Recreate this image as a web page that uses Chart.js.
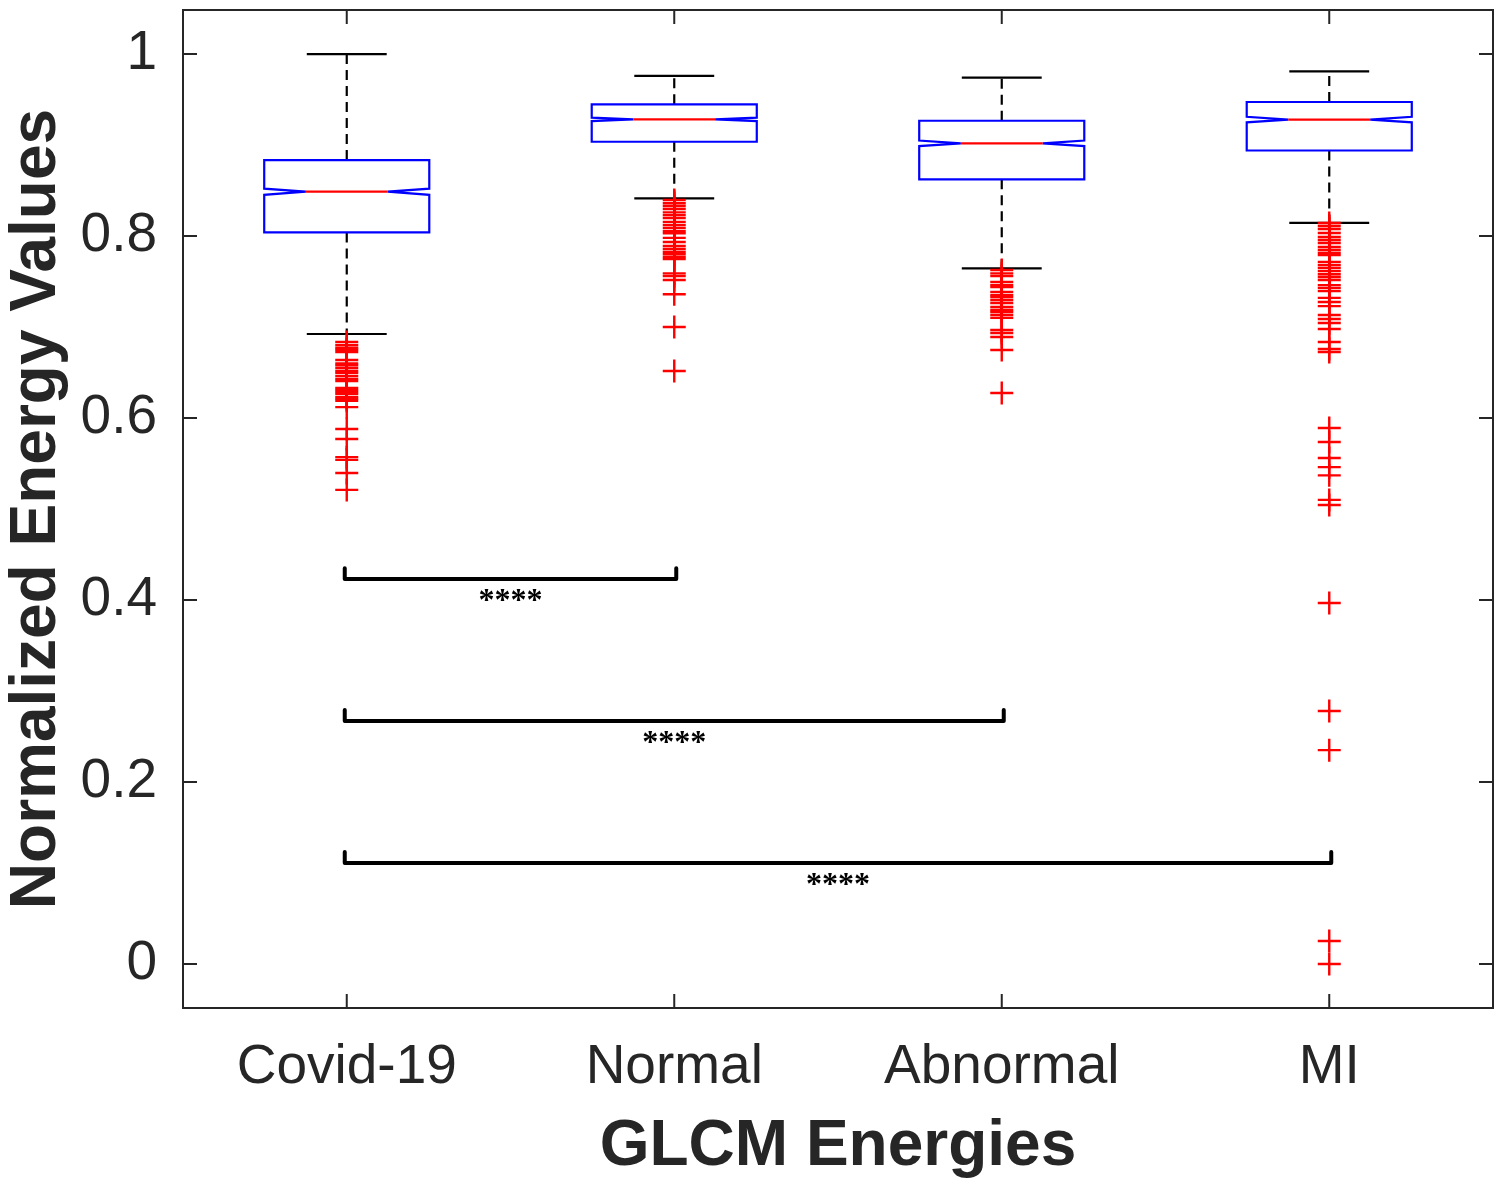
<!DOCTYPE html>
<html>
<head>
<meta charset="utf-8">
<script src="https://cdn.jsdelivr.net/npm/chart.js@4.4.0/dist/chart.umd.min.js"></script>
<style>
  html, body { margin: 0; padding: 0; background: #fff; }
</style>
</head>
<body>
<canvas id="chart" width="1504" height="1179"></canvas>
<script>
// box statistics
var categories = ["Covid-19", "Normal", "Abnormal", "MI"];
var upperWhisker = [1.000, 0.976, 0.974, 0.981];
var q3 = [0.8835, 0.9447, 0.9267, 0.9473];
var medians = [0.8487, 0.9282, 0.9019, 0.928];
var q1 = [0.804, 0.9036, 0.8623, 0.894];
var lowerWhisker = [0.6923, 0.8414, 0.7645, 0.8145];
var notchHalf = [0.0034, 0.0019, 0.003, 0.003];

// outliers
var covidOutliers = [0.6835, 0.680, 0.677, 0.675, 0.6725, 0.6637, 0.660, 0.658, 0.655, 0.6516,
  0.6495, 0.646, 0.643, 0.6407, 0.633, 0.6308, 0.6286, 0.6264, 0.623, 0.621, 0.619, 0.612,
  0.588, 0.577, 0.557, 0.554, 0.5396, 0.521];
var normalOutliers = [0.8396, 0.836, 0.833, 0.8297, 0.826, 0.823, 0.8198, 0.8154, 0.812, 0.809,
  0.8055, 0.803, 0.798, 0.7934, 0.789, 0.7857, 0.7824, 0.780, 0.777, 0.7747, 0.759, 0.756,
  0.7516, 0.736, 0.700, 0.6516];
var abnormalOutliers = [0.7626, 0.759, 0.756, 0.7495, 0.746, 0.744, 0.7385, 0.735, 0.733, 0.7297,
  0.7264, 0.722, 0.7187, 0.7165, 0.7132, 0.710, 0.6967, 0.6934, 0.689, 0.6747, 0.6275];
var miOutliers = [0.8143, 0.811, 0.8077, 0.8033, 0.7989, 0.7956, 0.7923, 0.7879, 0.7846, 0.7813,
  0.779, 0.7714, 0.768, 0.765, 0.7615, 0.758, 0.755, 0.7516, 0.746, 0.743, 0.7396, 0.732,
  0.7275, 0.723, 0.7132, 0.7088, 0.7044, 0.6978, 0.6835, 0.6758, 0.6725, 0.589, 0.5736,
  0.556, 0.546, 0.537, 0.51, 0.5044, 0.3967, 0.278, 0.235, 0.0253, 0.0];
var outliers = [covidOutliers, normalOutliers, abnormalOutliers, miOutliers];

// significance brackets (group indexes are 1-based)
var sigFrom = [1, 1, 1];
var sigTo = [2, 3, 4];
var sigLevel = [0.423, 0.267, 0.111];
var sigText = ["****", "****", "****"];

var yTicks = [0, 0.2, 0.4, 0.6, 0.8, 1];
var yTickLabels = ["0", "0.2", "0.4", "0.6", "0.8", "1"];

var BOX_HALF = 0.252, NOTCH_HALF = 0.125, CAP_HALF = 0.122;
var AXIS_COLOR = "#262626";

var boxPlugin = {
  id: "notchedBoxes",
  beforeDatasetsDraw: function (chart) {
    var ctx = chart.ctx, xs = chart.scales.x, ys = chart.scales.y;
    ctx.save();
    categories.forEach(function (cat, i) {
      var c = i + 1;
      var cx = xs.getPixelForValue(c);
      var bl = xs.getPixelForValue(c - BOX_HALF), br = xs.getPixelForValue(c + BOX_HALF);
      var nl = xs.getPixelForValue(c - NOTCH_HALF), nr = xs.getPixelForValue(c + NOTCH_HALF);
      var cl = xs.getPixelForValue(c - CAP_HALF), cr = xs.getPixelForValue(c + CAP_HALF);
      var yUw = ys.getPixelForValue(upperWhisker[i]), yLw = ys.getPixelForValue(lowerWhisker[i]);
      var yQ3 = ys.getPixelForValue(q3[i]), yQ1 = ys.getPixelForValue(q1[i]);
      var yMed = ys.getPixelForValue(medians[i]);
      var yNh = ys.getPixelForValue(medians[i] + notchHalf[i]);
      var yNl = ys.getPixelForValue(medians[i] - notchHalf[i]);

      // whiskers
      ctx.strokeStyle = "#000";
      ctx.lineWidth = 2.2;
      ctx.setLineDash([10, 6]);
      ctx.beginPath();
      ctx.moveTo(cx, yQ3); ctx.lineTo(cx, yUw);
      ctx.moveTo(cx, yQ1); ctx.lineTo(cx, yLw);
      ctx.stroke();
      ctx.setLineDash([]);
      ctx.beginPath();
      ctx.moveTo(cl, yUw); ctx.lineTo(cr, yUw);
      ctx.moveTo(cl, yLw); ctx.lineTo(cr, yLw);
      ctx.stroke();

      // notched box
      ctx.fillStyle = "#fff";
      ctx.strokeStyle = "#0000ff";
      ctx.lineWidth = 2.2;
      ctx.beginPath();
      ctx.moveTo(bl, yQ3); ctx.lineTo(br, yQ3); ctx.lineTo(br, yNh);
      ctx.lineTo(nr, yMed); ctx.lineTo(br, yNl); ctx.lineTo(br, yQ1);
      ctx.lineTo(bl, yQ1); ctx.lineTo(bl, yNl); ctx.lineTo(nl, yMed);
      ctx.lineTo(bl, yNh); ctx.closePath();
      ctx.fill();
      ctx.stroke();

      // median
      ctx.strokeStyle = "#ff0000";
      ctx.beginPath();
      ctx.moveTo(nl, yMed); ctx.lineTo(nr, yMed);
      ctx.stroke();
    });
    ctx.restore();
  },
  afterDatasetsDraw: function (chart) {
    var ctx = chart.ctx, xs = chart.scales.x, ys = chart.scales.y;
    ctx.save();
    sigLevel.forEach(function (lv, k) {
      var x1 = xs.getPixelForValue(sigFrom[k]) - 2, x2 = xs.getPixelForValue(sigTo[k]) + 2;
      var y = ys.getPixelForValue(lv), yTop = ys.getPixelForValue(lv + 0.012);
      ctx.strokeStyle = "#000";
      ctx.lineWidth = 4;
      ctx.lineJoin = "round";
      ctx.lineCap = "round";
      ctx.beginPath();
      ctx.moveTo(x1, yTop); ctx.lineTo(x1, y); ctx.lineTo(x2, y); ctx.lineTo(x2, yTop);
      ctx.stroke();
      ctx.fillStyle = "#000";
      ctx.font = "bold 32px 'Liberation Serif'";
      ctx.textAlign = "center";
      ctx.textBaseline = "alphabetic";
      ctx.fillText(sigText[k], (x1 + x2) / 2, y + 31);
    });
    ctx.restore();
  },
  afterDraw: function (chart) {
    var ctx = chart.ctx, a = chart.chartArea, xs = chart.scales.x, ys = chart.scales.y;
    var tl = 14;
    ctx.save();
    ctx.strokeStyle = AXIS_COLOR;
    ctx.lineWidth = 2;
    ctx.strokeRect(a.left, a.top, a.right - a.left, a.bottom - a.top);
    ctx.beginPath();
    yTicks.forEach(function (v) {
      var y = ys.getPixelForValue(v);
      ctx.moveTo(a.left, y); ctx.lineTo(a.left + tl, y);
      ctx.moveTo(a.right, y); ctx.lineTo(a.right - tl, y);
    });
    categories.forEach(function (c, i) {
      var x = xs.getPixelForValue(i + 1);
      ctx.moveTo(x, a.bottom); ctx.lineTo(x, a.bottom - tl);
      ctx.moveTo(x, a.top); ctx.lineTo(x, a.top + tl);
    });
    ctx.stroke();
    ctx.restore();
  }
};

var datasets = outliers.map(function (vals, i) {
  return {
    label: categories[i],
    data: vals.map(function (v) { return { x: i + 1, y: v }; }),
    pointStyle: "cross",
    radius: 11.5,
    borderColor: "#ff0000",
    backgroundColor: "#ff0000",
    borderWidth: 2.4
  };
});

new Chart(document.getElementById("chart"), {
  type: "scatter",
  data: { datasets: datasets },
  options: {
    responsive: false,
    devicePixelRatio: 1,
    animation: false,
    layout: { autoPadding: false, padding: { top: 10, right: 11, left: 0, bottom: 0 } },
    plugins: { legend: { display: false }, tooltip: { enabled: false } },
    scales: {
      x: {
        type: "linear",
        min: 0.5,
        max: 4.5,
        grid: { display: false },
        border: { display: false },
        afterBuildTicks: function (s) {
          s.ticks = categories.map(function (c, i) { return { value: i + 1 }; });
        },
        afterFit: function (s) {
          s.height = 171;
          s.paddingLeft = 0; s.paddingRight = 0;
        },
        ticks: {
          padding: 19,
          color: AXIS_COLOR,
          font: { family: "'Liberation Sans', Arial, sans-serif", size: 55 },
          callback: function (v) { return categories[Math.round(v) - 1]; }
        },
        title: {
          display: true,
          text: "GLCM Energies",
          color: AXIS_COLOR,
          font: { family: "'Liberation Sans', Arial, sans-serif", size: 64, weight: "bold", lineHeight: 1 },
          padding: { top: 0, bottom: 0 }
        }
      },
      y: {
        min: -0.0484,
        max: 1.0484,
        grid: { display: false },
        border: { display: false },
        afterBuildTicks: function (s) {
          s.ticks = yTicks.map(function (v) { return { value: v }; });
        },
        afterFit: function (s) {
          s.width = 183;
          s.paddingTop = 0; s.paddingBottom = 0;
        },
        ticks: {
          padding: 18,
          color: AXIS_COLOR,
          font: { family: "'Liberation Sans', Arial, sans-serif", size: 55 },
          callback: function (v) { return yTickLabels[yTicks.indexOf(v)]; }
        },
        title: {
          display: true,
          text: "Normalized Energy Values",
          color: AXIS_COLOR,
          font: { family: "'Liberation Sans', Arial, sans-serif", size: 64, weight: "bold", lineHeight: 1 },
          padding: { top: 5, bottom: 0 }
        }
      }
    }
  },
  plugins: [boxPlugin]
});
</script>
</body>
</html>
